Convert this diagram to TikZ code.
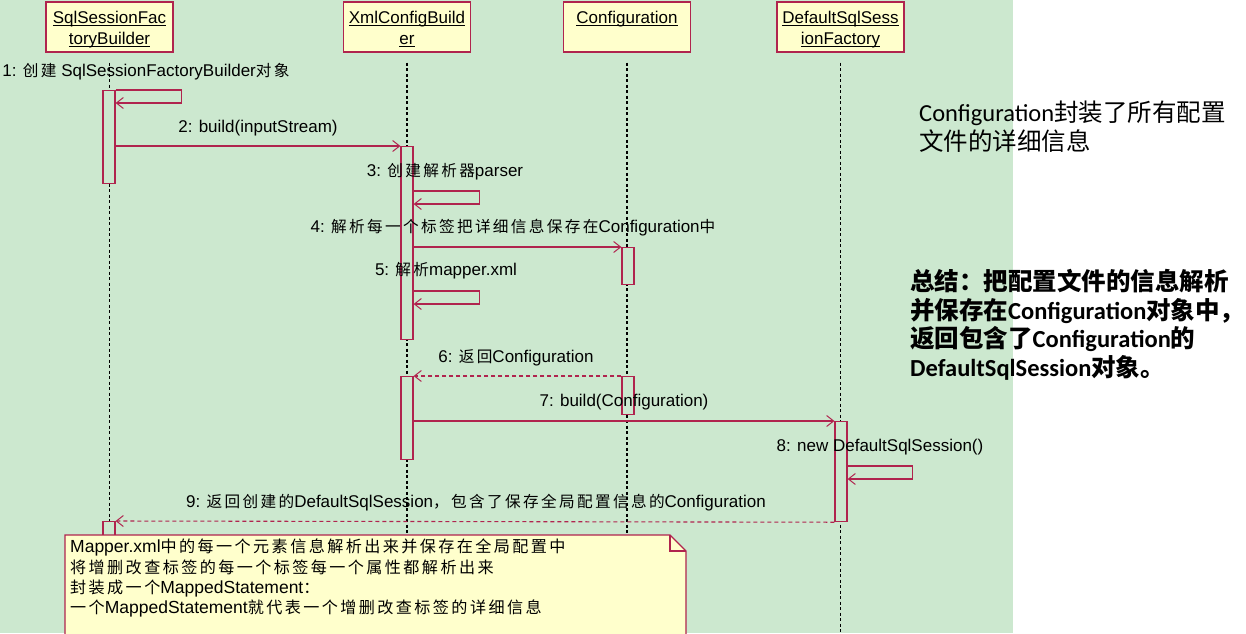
\documentclass[tikz,border=0pt]{standalone}
\usepackage{fontspec}
\setmainfont{Liberation Sans}
\newfontfamily\cjk{Noto Sans CJK SC}[Scale=0.92,LetterSpace=15]
\newfontfamily\cjkr{Noto Sans CJK SC}
\newfontfamily\calib{Carlito}
\usetikzlibrary{arrows.meta}
\definecolor{bg}{RGB}{204,232,207}
\definecolor{crim}{RGB}{176,36,78}
\definecolor{noteyel}{RGB}{255,255,204}
\newcommand\zh[1]{{\cjk #1}}
\newcommand\zr[1]{{\cjkr #1}}
\newcommand\ulx[1]{\setbox0\hbox{#1}\rlap{\rule[-2pt]{\wd0}{0.9pt}}\box0}
\tikzset{
 head/.style={draw=crim, line width=1.4pt, fill=noteyel, minimum width=127pt, minimum height=50pt, inner sep=0pt},
 headtxt/.style={align=center, inner sep=0pt, font=\fontsize{17}{21}\selectfont},
 life/.style={line width=1.1pt, dash pattern=on 3pt off 2.5pt},
 act/.style={draw=crim, line width=1.2pt, fill=bg, minimum width=12pt, inner sep=0pt},
 msg/.style={draw=crim, line width=1.1pt, -{Straight Barb[length=7pt,width=11pt,line width=1pt]}},
 ret/.style={msg, dash pattern=on 4pt off 3pt},
 lbl/.style={font=\fontsize{17}{20}\selectfont, inner sep=0pt},
}
\begin{document}
\begin{tikzpicture}[x=1pt,y=-1pt]
\clip (0,0) rectangle (1246,633);
\fill[white] (0,0) rectangle (1246,633);
\fill[bg] (0,0) rectangle (1013,633);
% heads
\node[head] (h1) at (109.5,27) {};
\node[head] (h2) at (407,27) {};
\node[head] (h3) at (627,27) {};
\node[head] (h4) at (840.5,27) {};
\node[headtxt, anchor=north] (t1) at ([yshift=-10pt]h1.north) {\ulx{SqlSessionFac}\\\ulx{toryBuilder}};
\node[headtxt, anchor=north] (t2) at ([yshift=-10pt]h2.north) {\ulx{XmlConfigBuild}\\\ulx{er}};
\node[headtxt, anchor=north] (t3) at ([yshift=-10pt]h3.north) {\ulx{Configuration}};
\node[headtxt, anchor=north] (t4) at ([yshift=-10pt]h4.north) {\ulx{DefaultSqlSess}\\\ulx{ionFactory}};
% lifelines
\foreach \h in {h1,h2,h3,h4}{\draw[life] ([yshift=-10pt]\h.south) -- (\h.south |- 0,640);}
% activations
\node[act, minimum height=93pt, anchor=north] (a1) at (109,90) {};
\node[act, minimum height=193pt, anchor=north] (a2) at (407,146) {};
\node[act, minimum height=37pt, anchor=north] (a3) at (628,247) {};
\node[act, minimum height=83pt, anchor=north] (a4) at (407,376) {};
\node[act, minimum height=38pt, anchor=north] (a5) at (628,376) {};
\node[act, minimum height=100pt, anchor=north] (a6) at (841,421) {};
\node[act, minimum height=20pt, anchor=north] (a7) at (109,521) {};
% messages
\draw[msg] (a1.north east) -- ++(66,0) -- ++(0,13) -- (a1.east |- 0,103);
\draw[msg] (a1.east |- a2.north) -- (a2.north west);
\draw[msg] (a2.east |- 0,191) -- ++(66,0) -- ++(0,13) -- (a2.east |- 0,204);
\draw[msg] (a2.east |- a3.north) -- (a3.north west);
\draw[msg] (a2.east |- 0,291) -- ++(66,0) -- ++(0,13) -- (a2.east |- 0,304);
\draw[ret] (a5.north west) -- (a4.north east);
\draw[msg] (a4.east |- a6.north) -- (a6.north west);
\draw[msg] (a6.east |- 0,466) -- ++(65,0) -- ++(0,13) -- (a6.east |- 0,479);
\draw[ret] (a6.south west) -- (a7.north east);
% labels
\node[lbl] (l1) at (146,72) {1: \zh{创建} SqlSessionFactoryBuilder\zh{对象}};
\node[lbl] (l2) at (258,128) {2: build(inputStream)};
\node[lbl] (l3) at (445,172) {3: \zh{创建解析器}parser};
\node[lbl] (l4) at (513,228) {4: \zh{解析每一个标签把详细信息保存在}Configuration\zh{中}};
\node[lbl] (l5) at (446,271) {5: \zh{解析}mapper.xml};
\node[lbl] (l6) at (516,358) {6: \zh{返回}Configuration};
\node[lbl] (l7) at (624,402) {7: build(Configuration)};
\node[lbl] (l8) at (880,447) {8: new DefaultSqlSession()};
\node[lbl] (l9) at (476,503) {9: \zh{返回创建的}DefaultSqlSession\zh{，包含了保存全局配置信息的}Configuration};
% note
\draw[crim, fill=noteyel, line width=1.2pt] (65,535) -- (670,535) -- (686,551) -- (686,645) -- (65,645) -- cycle;
\draw[crim, line width=1.2pt] (670,535) -- (670,551) -- (686,551);
\node[anchor=north west, align=left, inner sep=0pt, font=\fontsize{17.5}{20.3}\selectfont] (note) at (70,539)
 {Mapper.xml\zh{中的每一个元素信息解析出来并保存在全局配置中}\\
  \zh{将增删改查标签的每一个标签每一个属性都解析出来}\\
  \zh{封装成一个}MappedStatement\zh{：}\\
  \zh{一个}MappedStatement\zh{就代表一个增删改查标签的详细信息}};
% right texts
\node[anchor=west, align=left, inner sep=0pt, font=\calib\fontsize{24.5}{29}\selectfont] (info) at (919,127)
 {Configuration\zr{封装了所有配置}\\ \zr{文件的详细信息}};
\node[anchor=west, align=left, inner sep=0pt, font=\calib\bfseries\fontsize{24.5}{28.5}\selectfont] (sum) at (910,325)
 {\zr{总结：把配置文件的信息解析}\\\zr{并保存在}Configuration\zr{对象中，}\\\zr{返回包含了}Configuration\zr{的}\\DefaultSqlSession\zr{对象。}};
\end{tikzpicture}
\end{document}
